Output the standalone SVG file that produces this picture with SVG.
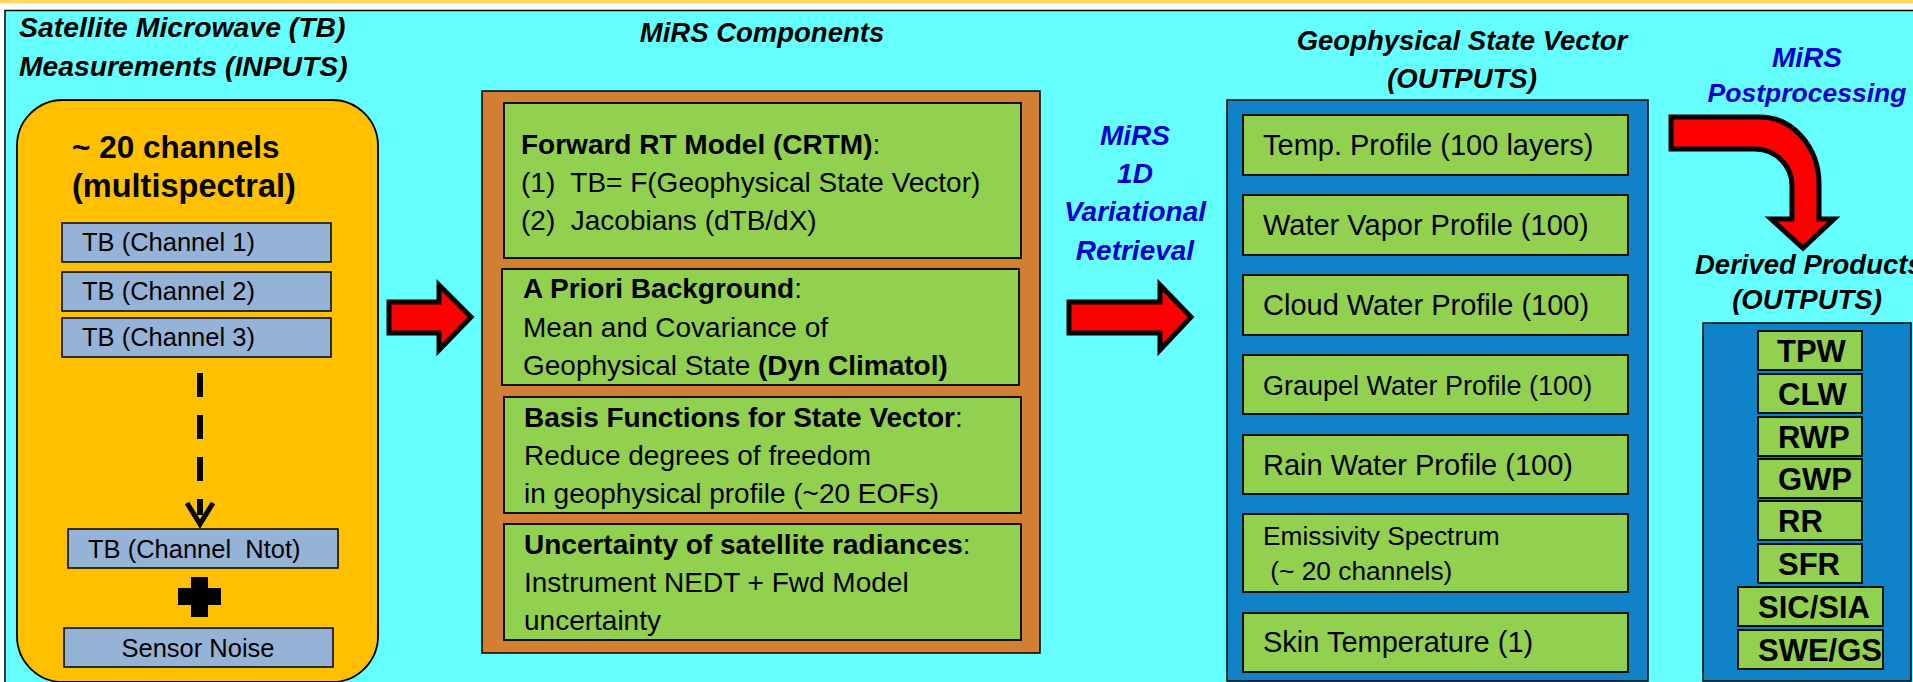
<svg xmlns="http://www.w3.org/2000/svg" width="1913" height="682" viewBox="0 0 1913 682">
<defs>
<style>
text{font-family:"Liberation Sans",Arial,sans-serif;fill:#000;white-space:pre}
.ti{font-weight:bold;font-style:italic;font-size:27.5px}
.bl{fill:#0000CC;font-weight:bold;font-style:italic;font-size:28px}
.tb{fill:#95B3D7;stroke:#000;stroke-width:1.5}
.gr{fill:#92D050;stroke:#000;stroke-width:1.8}
.bf{fill:#1083C8;stroke:#000;stroke-width:1.5}
.tbt{font-size:25.5px}
.mt{font-size:28px}
.mb{font-size:28px;font-weight:bold}
.ot{font-size:29px}
.dp{font-size:31px;font-weight:bold}
.arr{fill:#FF0000;stroke:#000;stroke-width:5;stroke-linejoin:miter;stroke-miterlimit:10}
</style>
</defs>
<rect x="0" y="0" width="1913" height="682" fill="#FFFFFF"/>
<rect x="0" y="0" width="1913" height="3.5" fill="#FFD75E"/>
<rect x="5" y="10.5" width="1920" height="700" fill="#66FFFF" stroke="#000" stroke-width="1.5"/>

<g id="titles">
<text class="ti" x="19" y="37" style="font-size:28.4px">Satellite Microwave (TB)</text>
<text class="ti" x="19" y="76" style="font-size:28.3px">Measurements (INPUTS)</text>
<text class="ti" x="762" y="42" text-anchor="middle">MiRS Components</text>
<text class="ti" x="1462" y="50" text-anchor="middle">Geophysical State Vector</text>
<text class="ti" x="1462" y="88" text-anchor="middle">(OUTPUTS)</text>
<text class="bl" x="1135" y="145" text-anchor="middle">MiRS</text>
<text class="bl" x="1135" y="183" text-anchor="middle">1D</text>
<text class="bl" x="1135" y="221" text-anchor="middle">Variational</text>
<text class="bl" x="1135" y="260" text-anchor="middle">Retrieval</text>
<text class="bl" x="1807" y="67" text-anchor="middle">MiRS</text>
<text class="bl" x="1807" y="102" text-anchor="middle" style="font-size:26.5px">Postprocessing</text>
<text class="ti" x="1695" y="274">Derived Products</text>
<text class="ti" x="1807" y="309" text-anchor="middle">(OUTPUTS)</text>
</g>

<g id="inputs">
<rect x="17" y="100" width="361" height="582" rx="46" ry="46" fill="#FFC000" stroke="#000" stroke-width="1.8"/>
<text x="72" y="158" style="font-size:31.5px;font-weight:bold">~ 20 channels</text>
<text x="72" y="197" style="font-size:32.5px;font-weight:bold">(multispectral)</text>
<rect class="tb" x="62" y="223" width="269" height="39"/>
<text class="tbt" x="82" y="251">TB (Channel 1)</text>
<rect class="tb" x="62" y="272" width="269" height="39"/>
<text class="tbt" x="82" y="300">TB (Channel 2)</text>
<rect class="tb" x="62" y="318" width="269" height="39"/>
<text class="tbt" x="82" y="346">TB (Channel 3)</text>
<rect class="tb" x="68" y="529" width="270" height="39"/>
<text class="tbt" x="88" y="558">TB (Channel  Ntot)</text>
<rect x="191" y="577" width="17" height="40" fill="#000"/>
<rect x="178" y="588" width="43" height="17" fill="#000"/>
<rect class="tb" x="64" y="628" width="269" height="39"/>
<text class="tbt" x="198" y="657" text-anchor="middle">Sensor Noise</text>
</g>

<g id="components">
<rect x="482" y="91" width="558" height="562" fill="#D27F31" stroke="#000" stroke-width="1.5"/>
<rect class="gr" x="504" y="103" width="517" height="155"/>
<text class="mb" x="521" y="154">Forward RT Model (CRTM)<tspan style="font-weight:normal">:</tspan></text>
<text class="mt" x="521" y="192">(1)  TB= F(Geophysical State Vector)</text>
<text class="mt" x="521" y="230">(2)  Jacobians (dTB/dX)</text>
<rect class="gr" x="502" y="269" width="517" height="116"/>
<text class="mb" x="523" y="298">A Priori Background<tspan style="font-weight:normal">:</tspan></text>
<text class="mt" x="523" y="337">Mean and Covariance of</text>
<text class="mt" x="523" y="375">Geophysical State <tspan style="font-weight:bold">(Dyn Climatol)</tspan></text>
<rect class="gr" x="504" y="397" width="517" height="116"/>
<text class="mb" x="524" y="427">Basis Functions for State Vector<tspan style="font-weight:normal">:</tspan></text>
<text class="mt" x="524" y="465">Reduce degrees of freedom</text>
<text class="mt" x="524" y="503">in geophysical profile (~20 EOFs)</text>
<rect class="gr" x="504" y="524" width="517" height="116"/>
<text class="mb" x="524" y="554">Uncertainty of satellite radiances<tspan style="font-weight:normal">:</tspan></text>
<text class="mt" x="524" y="592">Instrument NEDT + Fwd Model</text>
<text class="mt" x="524" y="630">uncertainty</text>
</g>

<g id="state-vector">
<rect class="bf" x="1227" y="100" width="421" height="581"/>
<rect class="gr" x="1243" y="115" width="385" height="60"/>
<text class="ot" x="1263" y="155">Temp. Profile (100 layers)</text>
<rect class="gr" x="1243" y="195" width="385" height="60"/>
<text class="ot" x="1263" y="235">Water Vapor Profile (100)</text>
<rect class="gr" x="1243" y="275" width="385" height="60"/>
<text class="ot" x="1263" y="315">Cloud Water Profile (100)</text>
<rect class="gr" x="1243" y="355" width="385" height="59"/>
<text class="ot" x="1263" y="395" style="font-size:27px">Graupel Water Profile (100)</text>
<rect class="gr" x="1243" y="435" width="385" height="59"/>
<text class="ot" x="1263" y="475">Rain Water Profile (100)</text>
<rect class="gr" x="1243" y="514" width="385" height="78"/>
<text class="ot" x="1263" y="545" style="font-size:26.3px">Emissivity Spectrum</text>
<text class="ot" x="1263" y="580" style="font-size:26.3px"> (~ 20 channels)</text>
<rect class="gr" x="1243" y="613" width="385" height="59"/>
<text class="ot" x="1263" y="652">Skin Temperature (1)</text>
</g>

<g id="derived-products">
<rect class="bf" x="1703" y="323" width="208" height="358"/>
<rect class="gr" x="1758" y="331" width="104" height="39"/>
<text class="dp" x="1777" y="362">TPW</text>
<rect class="gr" x="1758" y="374" width="104" height="39"/>
<text class="dp" x="1778" y="405">CLW</text>
<rect class="gr" x="1758" y="417" width="104" height="39"/>
<text class="dp" x="1778" y="448">RWP</text>
<rect class="gr" x="1758" y="459" width="104" height="39"/>
<text class="dp" x="1778" y="490">GWP</text>
<rect class="gr" x="1758" y="501" width="104" height="39"/>
<text class="dp" x="1778" y="532">RR</text>
<rect class="gr" x="1758" y="544" width="104" height="39"/>
<text class="dp" x="1778" y="575">SFR</text>
<rect class="gr" x="1738" y="587" width="145" height="39"/>
<text class="dp" x="1758" y="618">SIC/SIA</text>
<rect class="gr" x="1738" y="630" width="145" height="39"/>
<text class="dp" x="1758" y="661">SWE/GS</text>
</g>

<g id="connectors">
<path d="M200,373 L200,515" stroke="#000" stroke-width="6" stroke-dasharray="24 18" fill="none"/>
<polyline points="187,503 200,524 213,503" fill="none" stroke="#000" stroke-width="5"/>
<path class="arr" d="M389,302 L439,302 L439,285 L471,317 L439,350 L439,333 L389,333 Z"/>
<path class="arr" d="M1069,302 L1160,302 L1160,285 L1191,317 L1160,350 L1160,333 L1069,333 Z"/>
<path class="arr" d="M1671,117 L1760,117 A59,67 0 0 1 1819,184 L1819,219 L1834,219 L1803,248 L1771,219 L1792,219 L1792,188 A37,37 0 0 0 1755,149 L1671,149 Z"/>
</g>
</svg>
